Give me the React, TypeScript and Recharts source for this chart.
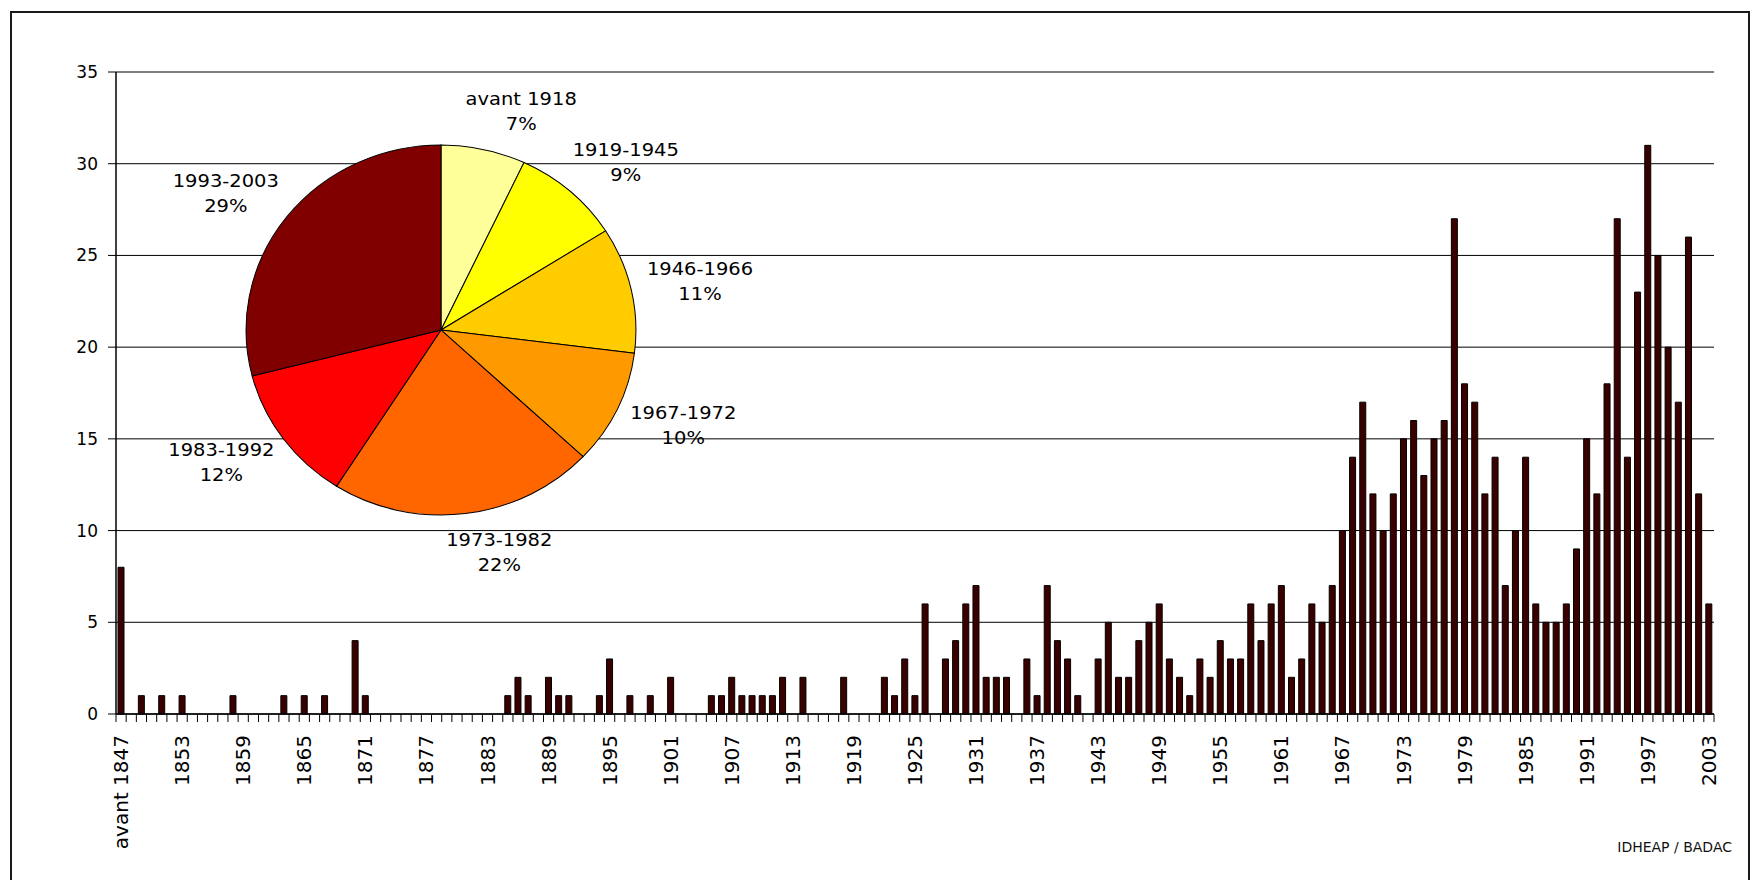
import React from 'react';
import { BarChart, Bar, XAxis, YAxis, CartesianGrid, PieChart, Pie, Cell } from 'recharts';

// categories: "avant 1847", then one per year 1848..2003
const years: string[] = ['avant 1847'];
for (let y = 1848; y <= 2003; y++) years.push(String(y));

const counts = [
  8,
  0, 1, 0, 1, 0, 1, 0, 0, 0, 0, // 1848-1857
  1, 0, 0, 0, 0, 1, 0, 1, 0, 1, // 1858-1867
  0, 0, 4, 1, 0, 0, 0, 0, 0, 0, // 1868-1877
  0, 0, 0, 0, 0, 0, 0, 1, 2, 1, // 1878-1887
  0, 2, 1, 1, 0, 0, 1, 3, 0, 1, // 1888-1897
  0, 1, 0, 2, 0, 0, 0, 1, 1, 2, // 1898-1907
  1, 1, 1, 1, 2, 0, 2, 0, 0, 0, // 1908-1917
  2, 0, 0, 0, 2, 1, 3, 1, 6, 0, // 1918-1927
  3, 4, 6, 7, 2, 2, 2, 0, 3, 1, // 1928-1937
  7, 4, 3, 1, 0, 3, 5, 2, 2, 4, // 1938-1947
  5, 6, 3, 2, 1, 3, 2, 4, 3, 3, // 1948-1957
  6, 4, 6, 7, 2, 3, 6, 5, 7, 10, // 1958-1967
  14, 17, 12, 10, 12, 15, 16, 13, 15, 16, // 1968-1977
  27, 18, 17, 12, 14, 7, 10, 14, 6, 5, // 1978-1987
  5, 6, 9, 15, 12, 18, 27, 14, 23, 31, // 1988-1997
  25, 20, 17, 26, 12, 6, // 1998-2003
];

const yTicks = [0, 5, 10, 15, 20, 25, 30, 35];

const pieNames = ['avant 1918', '1919-1945', '1946-1966', '1967-1972', '1973-1982', '1983-1992', '1993-2003'];
const pieShares = [7, 9, 11, 10, 22, 12, 29];
const pieColors = ['#FFFF99', '#FFFF00', '#FFCC00', '#FF9900', '#FF6600', '#FF0000', '#800000'];

const barData = years.map((year, i) => ({ year, count: counts[i] }));
const pieData = pieNames.map((name, i) => ({ name, value: pieShares[i] }));

const FONT = '"DejaVu Sans", Verdana, sans-serif';
const CHART_W = 1760;
const CHART_H = 880;
const MARGIN = { top: 72, right: 46, bottom: 16, left: 56 };
const Y_AXIS_W = 60;
const PLOT_W = CHART_W - MARGIN.left - MARGIN.right - Y_AXIS_W;
const LABEL_GAP = 21;
const TICK_LEN = 8;

const YearTick = (props: any) => {
  const { x, y, payload, index } = props;
  const i = payload?.index ?? index;
  const band = PLOT_W / years.length;
  const axisY = y - LABEL_GAP;
  const left = x - band / 2;
  const last = i === years.length - 1;
  return (
    <g>
      <line x1={left} x2={left} y1={axisY} y2={axisY + TICK_LEN} stroke="#000" />
      {last && <line x1={x + band / 2} x2={x + band / 2} y1={axisY} y2={axisY + TICK_LEN} stroke="#000" />}
      {i % 6 === 0 && (
        <text
          x={x}
          y={y}
          transform={`rotate(-90, ${x}, ${y})`}
          textAnchor="end"
          dy="0.35em"
          fontSize={20}
          fontFamily={FONT}
          fill="#000"
        >
          {payload.value}
        </text>
      )}
    </g>
  );
};

// outside-end labels: pushed out along the slice middle, then nudged sideways
const renderPieLabel = (props: any) => {
  const { cx, cy, midAngle, outerRadius, value } = props;
  const name = props.name ?? props.payload?.name;
  const rad = (-midAngle * Math.PI) / 180;
  const dx = Math.cos(rad);
  const dy = Math.sin(rad);
  const r = outerRadius + 40;
  const lx = cx + r * dx + Math.sign(dx) * 28;
  const ly = cy + r * dy;
  return (
    <text x={lx} y={ly} textAnchor="middle" fontSize={19} fontFamily={FONT} fill="#000">
      <tspan x={lx} y={ly - 12.8 + 6.7}>{name}</tspan>
      <tspan x={lx} y={ly + 12.8 + 6.7}>{value}%</tspan>
    </text>
  );
};

export default function App() {
  return (
    <div style={{ position: 'absolute', left: 0, top: 0, width: CHART_W, height: CHART_H, overflow: 'hidden', background: '#fff' }}>
      <div
        style={{
          position: 'absolute',
          left: 10,
          top: 11,
          width: 1740,
          height: 900,
          border: '2px solid #1a1a1a',
          boxSizing: 'border-box',
        }}
      />
      <div style={{ position: 'absolute', left: 0, top: 0 }}>
        <BarChart width={CHART_W} height={CHART_H} data={barData} margin={MARGIN} barCategoryGap="40%">
          <CartesianGrid vertical={false} stroke="#000" strokeWidth={1} />
          <XAxis
            dataKey="year"
            interval={0}
            height={150}
            tickSize={0}
            tickMargin={LABEL_GAP}
            tickLine={false}
            axisLine={{ stroke: '#000', strokeWidth: 1.5 }}
            tick={<YearTick />}
          />
          <YAxis
            domain={[0, 35]}
            ticks={yTicks}
            width={Y_AXIS_W}
            tickSize={TICK_LEN}
            tickMargin={10}
            tickLine={{ stroke: '#000' }}
            axisLine={{ stroke: '#000', strokeWidth: 1.5 }}
            tick={{ fontSize: 17, fontFamily: FONT, fill: '#000' }}
            interval={0}
          />
          <YAxis
            yAxisId="right"
            orientation="right"
            width={0}
            tick={false}
            tickLine={false}
            axisLine={{ stroke: '#000', strokeWidth: 1.5 }}
          />
          <Bar dataKey="count" barSize={6} fill="#3A0000" stroke="#000" strokeWidth={1} isAnimationActive={false} />
        </BarChart>
      </div>
      {/* the original pie is slightly oval, so the overlay is stretched a little */}
      <div
        style={{
          position: 'absolute',
          left: 91,
          top: 30,
          width: 700,
          height: 600,
          transform: 'scale(1.026, 0.974)',
          transformOrigin: '350px 300px',
        }}
      >
        <PieChart width={700} height={600}>
          <Pie
            data={pieData}
            dataKey="value"
            nameKey="name"
            cx="50%"
            cy="50%"
            outerRadius={190}
            startAngle={90}
            endAngle={-270}
            stroke="#000"
            strokeWidth={1}
            label={renderPieLabel}
            labelLine={false}
            isAnimationActive={false}
          >
            {pieData.map((d, i) => (
              <Cell key={d.name} fill={pieColors[i]} />
            ))}
          </Pie>
        </PieChart>
      </div>
      <div
        style={{
          position: 'absolute',
          right: 28,
          top: 840,
          fontFamily: FONT,
          fontSize: 14,
          lineHeight: '14px',
          color: '#111',
        }}
      >
        IDHEAP / BADAC
      </div>
    </div>
  );
}
